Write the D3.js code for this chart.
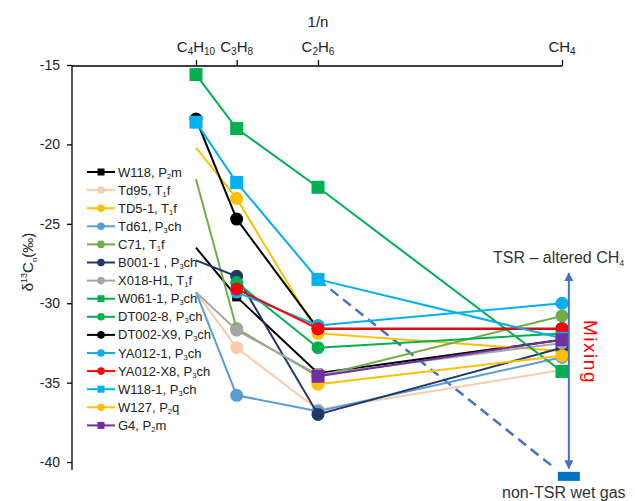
<!DOCTYPE html>
<html>
<head>
<meta charset="utf-8">
<script src="https://cdn.jsdelivr.net/npm/d3@7/dist/d3.min.js"></script>
<style>
  body { margin: 0; background: #fff; }
  svg { font-family: "Liberation Sans", Arial, sans-serif; }
</style>
</head>
<body>
<svg id="chart" width="635" height="501"></svg>
<script>
// carbon numbers on the top axis (position = 1/n)
const carbon = [4, 3, 2, 1];
const ionLabels = [["C", "4", "H", "10"], ["C", "3", "H", "8"], ["C", "2", "H", "6"], ["CH", "4"]];
const yTicks = [-15, -20, -25, -30, -35, -40];

// delta13C values: C4H10, C3H8, C2H6, CH4 (null = not shown)
const names = ["W118", "Td95", "TD5-1", "Td61", "C71", "B001-1", "X018-H1", "W061-1",
  "DT002-8", "DT002-X9", "YA012-1", "YA012-X8", "W118-1", "W127", "G4"];
const legendLabels = ["W118, P_2m", "Td95, T_1f", "TD5-1, T_1f", "Td61, P_3ch", "C71, T_1f",
  "B001-1 , P_3ch", "X018-H1, T_1f", "W061-1, P_3ch", "DT002-8, P_3ch", "DT002-X9, P_3ch",
  "YA012-1, P_3ch", "YA012-X8, P_3ch", "W118-1, P_3ch", "W127, P_2q", "G4, P_2m"];
const W118 = [-26.5, -29.6, -34.4, -32.3];
const Td95 = [-29.3, -32.8, -36.7, -34.2];
const TD51 = [-20.2, -23.4, -31.9, -33.0];
const Td61 = [-29.3, -35.8, -36.8, -33.4];
const C71 = [-22.2, -31.6, -34.6, -30.8];
const B0011 = [-27.3, -28.3, -37.0, -32.8];
const X018H1 = [-29.3, -31.7, -34.5, -32.5];
const W0611 = [-15.6, -19.0, -22.7, -34.3];
const DT0028 = [null, -28.7, -32.8, -31.9];
const DT002X9 = [-18.4, -24.7, -31.6, -31.6];
const YA0121 = [null, -29.3, -31.4, -30.0];
const YA012X8 = [null, -29.1, -31.6, -31.6];
const W1181 = [-18.6, -22.4, -28.5, -32.2];
const W127 = [null, null, -35.1, -33.3];
const G4 = [null, null, -34.6, -32.3];
const values = [W118, Td95, TD51, Td61, C71, B0011, X018H1, W0611, DT0028, DT002X9, YA0121, YA012X8, W1181, W127, G4];

// non-TSR wet gas end member and mixing trend
const trendStart = [1 / 2, -28.5];
const trendEnd = [0.986, -40.4];
const wetGas = [1.014, -40.9];
const mixingRange = [-28.1, -40.4];

// styles
const colors = ["#000000", "#F8CBAD", "#FFC000", "#5B9BD5", "#70AD47", "#1F3864", "#A5A5A5", "#00B050",
  "#00B050", "#000000", "#00B0F0", "#FF0000", "#00B0F0", "#FFC000", "#7030A0"];
const squares = ["W118", "W061-1", "W118-1", "G4"];
const c4Markers = ["W061-1", "W118-1", "DT002-X9"];

const svg = d3.select("#chart");
const x = d3.scaleLinear().domain([0, 1]).range([74, 562]);
const y = d3.scaleLinear().domain([-15, -40.5]).range([65, 470]);

// axes
const topAxis = svg.append("g").attr("transform", "translate(0,66)")
  .call(d3.axisTop(x).tickValues(carbon.map(n => 1 / n)).tickSize(6).tickFormat(""));
topAxis.select(".domain").attr("d", "M72,0H562").attr("stroke", "#000").attr("stroke-width", 1.3);
topAxis.selectAll(".tick line").attr("stroke", "#000").attr("stroke-width", 1.3);

const leftAxis = svg.append("g").attr("transform", "translate(72,0)")
  .call(d3.axisLeft(y).tickValues(yTicks).tickSize(5).tickFormat(d => d));
leftAxis.select(".domain").attr("d", "M0,65V470").attr("stroke", "#000").attr("stroke-width", 1.3);
leftAxis.selectAll(".tick line").attr("stroke", "#000").attr("stroke-width", 1.3);
leftAxis.selectAll(".tick text").attr("font-size", 14).attr("fill", "#222").attr("dx", -4)
  .style("font-family", "Liberation Sans, Arial, sans-serif");

// top axis labels with subscripts
carbon.forEach((n, i) => {
  const t = svg.append("text").attr("x", x(1 / n)).attr("y", 52).attr("text-anchor", "middle")
    .attr("font-size", 15).attr("fill", "#222");
  ionLabels[i].forEach((part, k) => {
    const sub = k % 2 === 1;
    t.append("tspan").text(part)
      .attr("font-size", sub ? 10 : 15)
      .attr("dy", sub ? 3 : (k > 0 ? -3 : 0));
  });
});
svg.append("text").attr("x", x(0.5)).attr("y", 27).attr("text-anchor", "middle")
  .attr("font-size", 15).attr("fill", "#222").text("1/n");

// y title
const yt = svg.append("text").attr("transform", "translate(33,262) rotate(-90)")
  .attr("text-anchor", "middle").attr("font-size", 15).attr("fill", "#222");
yt.append("tspan").text("δ");
yt.append("tspan").text("13").attr("font-size", 9).attr("dy", -6);
yt.append("tspan").text("C").attr("dy", 6);
yt.append("tspan").text("n").attr("font-size", 8).attr("dy", 4);
yt.append("tspan").text("(‰)").attr("dy", -4);

// dashed trend
svg.append("line")
  .attr("x1", x(trendStart[0])).attr("y1", y(trendStart[1]))
  .attr("x2", x(trendEnd[0])).attr("y2", y(trendEnd[1]))
  .attr("stroke", "#4472C4").attr("stroke-width", 2.5).attr("stroke-dasharray", "10,6");

// series
const line = d3.line().defined(d => d[1] != null).x(d => x(d[0])).y(d => y(d[1]));
values.forEach((vals, i) => {
  const pts = vals.map((v, k) => [1 / carbon[k], v]);
  const g = svg.append("g");
  g.append("path").datum(pts).attr("d", line).attr("fill", "none")
    .attr("stroke", colors[i]).attr("stroke-width", 2);
  const shown = pts.filter((p, k) => p[1] != null && (k > 0 || c4Markers.includes(names[i])));
  if (squares.includes(names[i])) {
    const s = names[i] === "W118" ? 9 : 13;
    g.selectAll("rect").data(shown).join("rect")
      .attr("x", d => x(d[0]) - s / 2).attr("y", d => y(d[1]) - s / 2)
      .attr("width", s).attr("height", s).attr("fill", colors[i]);
  } else {
    g.selectAll("circle").data(shown).join("circle")
      .attr("cx", d => x(d[0])).attr("cy", d => y(d[1])).attr("r", 6.5).attr("fill", colors[i]);
  }
});

// mixing arrow
const defs = svg.append("defs");
defs.append("marker").attr("id", "ah").attr("viewBox", "0 0 10 10").attr("refX", 9).attr("refY", 5)
  .attr("markerWidth", 4.5).attr("markerHeight", 4.5).attr("orient", "auto-start-reverse")
  .append("path").attr("d", "M0,0L10,5L0,10Z").attr("fill", "#4472C4");
svg.append("line")
  .attr("x1", x(wetGas[0])).attr("x2", x(wetGas[0]))
  .attr("y1", y(mixingRange[0])).attr("y2", y(mixingRange[1]))
  .attr("stroke", "#4472C4").attr("stroke-width", 2)
  .attr("marker-start", "url(#ah)").attr("marker-end", "url(#ah)");
svg.append("rect")
  .attr("x", x(wetGas[0]) - 11).attr("y", y(wetGas[1]) - 4.5)
  .attr("width", 22).attr("height", 9).attr("fill", "#0070C0");

const tsr = svg.append("text").attr("x", 493).attr("y", 263).attr("font-size", 16).attr("fill", "#333");
tsr.append("tspan").text("TSR – altered CH");
tsr.append("tspan").text("4").attr("font-size", 9).attr("dy", 3);
svg.append("text").attr("x", 502).attr("y", 498).attr("font-size", 16).attr("fill", "#333")
  .text("non-TSR wet gas");
svg.append("text").attr("transform", "translate(584,352) rotate(90)").attr("text-anchor", "middle")
  .attr("font-size", 19).attr("fill", "#FF0000").attr("letter-spacing", 1.5).text("Mixing");

// legend
names.forEach((n, i) => {
  const ly = 172 + i * 18.1;
  const g = svg.append("g");
  g.append("line").attr("x1", 87).attr("x2", 115).attr("y1", ly).attr("y2", ly)
    .attr("stroke", colors[i]).attr("stroke-width", 2);
  if (squares.includes(n)) {
    g.append("rect").attr("x", 97.5).attr("y", ly - 3.5).attr("width", 7).attr("height", 7).attr("fill", colors[i]);
  } else {
    g.append("circle").attr("cx", 101).attr("cy", ly).attr("r", 3.8).attr("fill", colors[i]);
  }
  const t = g.append("text").attr("x", 118).attr("y", ly + 4.5).attr("font-size", 13).attr("fill", "#222");
  const [a, b] = legendLabels[i].split("_");
  t.append("tspan").text(a);
  t.append("tspan").text(b[0]).attr("font-size", 7.5).attr("dy", 2);
  t.append("tspan").text(b.slice(1)).attr("dy", -2);
});
</script>
</body>
</html>
